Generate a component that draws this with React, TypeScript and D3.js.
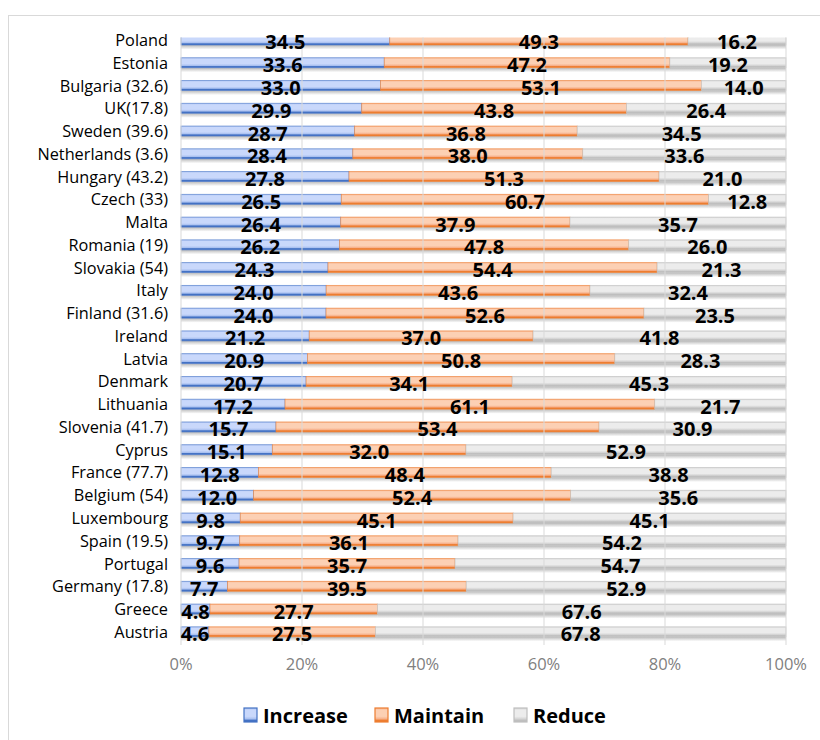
import * as d3 from "d3";

const countries = [
  "Poland", "Estonia", "Bulgaria (32.6)", "UK(17.8)", "Sweden (39.6)", "Netherlands (3.6)",
  "Hungary (43.2)", "Czech (33)", "Malta", "Romania (19)", "Slovakia (54)", "Italy",
  "Finland (31.6)", "Ireland", "Latvia", "Denmark", "Lithuania", "Slovenia (41.7)", "Cyprus",
  "France (77.7)", "Belgium (54)", "Luxembourg", "Spain (19.5)", "Portugal", "Germany (17.8)",
  "Greece", "Austria",
];
const increase = [34.5, 33.6, 33.0, 29.9, 28.7, 28.4, 27.8, 26.5, 26.4, 26.2, 24.3, 24.0, 24.0, 21.2, 20.9, 20.7, 17.2, 15.7, 15.1, 12.8, 12.0, 9.8, 9.7, 9.6, 7.7, 4.8, 4.6];
const maintain = [49.3, 47.2, 53.1, 43.8, 36.8, 38.0, 51.3, 60.7, 37.9, 47.8, 54.4, 43.6, 52.6, 37.0, 50.8, 34.1, 61.1, 53.4, 32.0, 48.4, 52.4, 45.1, 36.1, 35.7, 39.5, 27.7, 27.5];
const reduce = [16.2, 19.2, 14.0, 26.4, 34.5, 33.6, 21.0, 12.8, 35.7, 26.0, 21.3, 32.4, 23.5, 41.8, 28.3, 45.3, 21.7, 30.9, 52.9, 38.8, 35.6, 45.1, 54.2, 54.7, 52.9, 67.6, 67.8];
const seriesNames = ["Increase", "Maintain", "Reduce"];
const ticks = [0, 0.2, 0.4, 0.6, 0.8, 1];

const palette = [
  { edge: "#4472c4", light: "#c9d8fb", mid: "#a9c0f0" },
  { edge: "#ed7d31", light: "#fcd0b4", mid: "#f7b08a" },
  { edge: "#bfbfbf", light: "#ececec", mid: "#d4d4d4" },
];

const W = 820;
const H = 740;
const left = 181;
const right = 786;

export default function App() {
  const rows = countries.map((c, i) => ({ c, Increase: increase[i], Maintain: maintain[i], Reduce: reduce[i] }));
  const stack = d3.stack<any>().keys(seriesNames).offset(d3.stackOffsetExpand);
  const layers = stack(rows);
  const x = d3.scaleLinear().domain([0, 1]).range([left, right]);
  const y = d3.scaleBand().domain(countries).range([28.6, 643.2]).padding(0);
  const barH = y.bandwidth() * 0.44;
  const raw = [increase, maintain, reduce];
  const font = "'Open Sans', sans-serif";

  return (
    <svg width={W} height={H} style={{ position: "absolute", left: 0, top: 0 }}>
      <defs>
        {palette.map((p, k) => (
          <linearGradient key={k} id={`g${k}`} x1="0" y1="0" x2="0" y2="1">
            <stop offset="0" stopColor={p.mid} />
            <stop offset="0.15" stopColor={p.light} />
            <stop offset="0.6" stopColor={p.light} />
            <stop offset="0.78" stopColor={p.mid} />
            <stop offset="0.88" stopColor={p.edge} />
            <stop offset="1" stopColor={p.edge} />
          </linearGradient>
        ))}
        <linearGradient id="shadow" x1="0" y1="0" x2="0" y2="1">
          <stop offset="0" stopColor="#8c8c8c" stopOpacity={0.6} />
          <stop offset="1" stopColor="#8c8c8c" stopOpacity={0} />
        </linearGradient>
        <clipPath id="plot">
          <rect x={left - 1} y={37.5} width={right - left + 4} height={620} />
        </clipPath>
      </defs>
      <rect x={8.5} y={15.5} width={W} height={H} fill="#fff" stroke="#d9d9d9" />

      <g clipPath="url(#plot)">
        {layers.map((layer, k) =>
          layer.map((d, i) => {
            const yc = (y(countries[i]) ?? 0) + y.bandwidth() / 2;
            const x0 = x(d[0]);
            const x1 = x(d[1]);
            return (
              <g key={`${k}-${i}`}>
                <rect x={x0} y={yc + barH / 2} width={x1 - x0} height={4.5} fill="url(#shadow)" />
                <rect x={x0} y={yc - barH / 2} width={x1 - x0} height={barH} fill={`url(#g${k})`} stroke={palette[k].edge} strokeWidth={0.8} strokeOpacity={0.7} />
              </g>
            );
          })
        )}
      </g>

      {ticks.map((t) => (
        <line key={t} x1={x(t)} x2={x(t)} y1={37.5} y2={645} stroke="#d9d9d9" strokeWidth={1} />
      ))}

      {layers.map((layer, k) =>
        layer.map((d, i) => {
          const yc = (y(countries[i]) ?? 0) + y.bandwidth() / 2;
          return (
            <text key={`l${k}-${i}`} x={(x(d[0]) + x(d[1])) / 2} y={yc + 2} textAnchor="middle" dominantBaseline="central"
              fontFamily={font} fontWeight={700} fontSize={20} fill="#000">
              {raw[k][i].toFixed(1)}
            </text>
          );
        })
      )}

      {countries.map((c) => (
        <text key={c} x={168} y={(y(c) ?? 0) + y.bandwidth() / 2} textAnchor="end" dominantBaseline="central"
          fontFamily={font} fontSize={16.3} fill="#000">
          {c}
        </text>
      ))}

      {ticks.map((t) => (
        <text key={`t${t}`} x={x(t)} y={663} textAnchor="middle" dominantBaseline="central" fontFamily={font} fontSize={16.5} fill="#808080">
          {d3.format(".0%")(t)}
        </text>
      ))}

      {seriesNames.map((s, k) => {
        const lx = [244, 375, 514][k];
        return (
          <g key={s}>
            <rect x={lx} y={708} width={13} height={14} fill={`url(#g${k})`} stroke={palette[k].edge} strokeWidth={1.2} />
            <text x={lx + 19} y={715} dominantBaseline="central" fontFamily={font} fontWeight={700} fontSize={20} fill="#000">
              {s}
            </text>
          </g>
        );
      })}
    </svg>
  );
}
